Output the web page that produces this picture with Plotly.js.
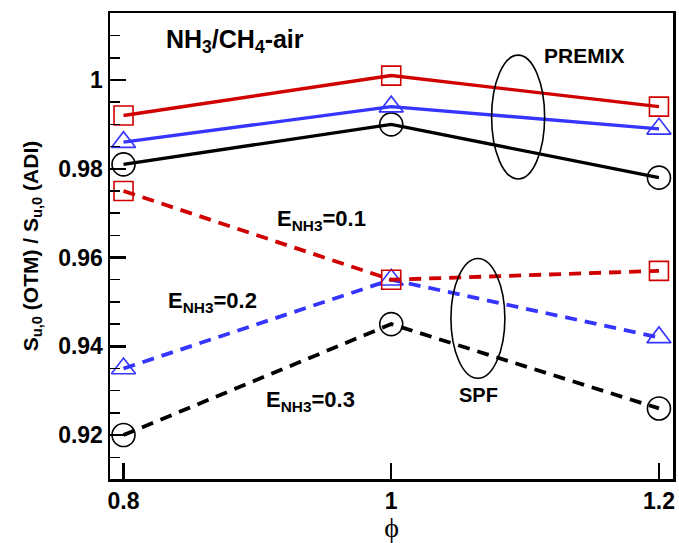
<!DOCTYPE html>
<html>
<head>
<meta charset="utf-8">
<script src="https://cdn.plot.ly/plotly-3.0.1.min.js"></script>
<style>
  html, body { margin: 0; padding: 0; background: #fff; }
  #chart { width: 679px; height: 543px; }
</style>
</head>
<body>
<div id="chart"></div>
<script>
// Equivalence ratio
const phi = [0.8, 1.0, 1.2];

// S_u,0 ratio (OTM / ADI), premixed cases
const premixE01 = [0.992, 1.001, 0.994];
const premixE02 = [0.986, 0.994, 0.989];
const premixE03 = [0.981, 0.990, 0.978];

// S_u,0 ratio (OTM / ADI), SPF cases
const spfE01 = [0.975, 0.955, 0.957];
const spfE02 = [0.935, 0.955, 0.942];
const spfE03 = [0.920, 0.945, 0.926];

// Tick labels
const xTickVals = [0.8, 1.0, 1.2];
const xTickText = ['0.8', '1', '1.2'];
const yTickVals = [0.92, 0.94, 0.96, 0.98, 1.0];
const yTickText = ['0.92', '0.94', '0.96', '0.98', '1'];

const RED = '#d00000';
const BLUE = '#3535ff';
const BLACK = '#000000';

function series(y, color, symbol, size, dashed) {
  return {
    x: phi, y: y, type: 'scatter', mode: 'lines+markers',
    line: { color: color, width: dashed ? 3.8 : 3.4, dash: dashed ? '12px,8px' : 'solid' },
    marker: { symbol: symbol, size: size, color: color, line: { color: color, width: 1.6 } },
    showlegend: false, cliponaxis: false
  };
}

const traces = [
  series(spfE03, BLACK, 'circle-open', 23, true),
  series(spfE02, BLUE, 'triangle-up-open', 21, true),
  series(spfE01, RED, 'square-open', 19, true),
  series(premixE03, BLACK, 'circle-open', 23, false),
  series(premixE02, BLUE, 'triangle-up-open', 21, false),
  series(premixE01, RED, 'square-open', 19, false)
];

const boldFont = { family: '"Liberation Sans", Arial, sans-serif', size: 22, color: '#000', weight: 'bold' };

const layout = {
  width: 679, height: 543,
  margin: { l: 110, r: 6, t: 13, b: 64 },
  paper_bgcolor: '#fff', plot_bgcolor: '#fff',
  xaxis: {
    range: [0.7899, 1.2105],
    tickvals: xTickVals, ticktext: xTickText,
    ticks: 'inside', ticklen: 16, tickwidth: 2.5, tickcolor: '#000',
    showline: true, mirror: true, linewidth: 2.5, linecolor: '#000',
    showgrid: false, zeroline: false,
    tickfont: { family: '"Liberation Sans", Arial, sans-serif', size: 23, color: '#000', weight: 'bold' },
    title: { text: 'ϕ', standoff: 2, font: { family: '"Liberation Serif", "DejaVu Serif", serif', size: 28, color: '#000' } }
  },
  yaxis: {
    range: [0.9101, 1.0151],
    tickvals: yTickVals, ticktext: yTickText,
    ticks: 'inside', ticklen: 16, tickwidth: 2.5, tickcolor: '#000',
    minor: { dtick: 0.005, ticks: 'inside', ticklen: 10, tickwidth: 1.5, tickcolor: '#000', showgrid: false },
    showline: true, mirror: true, linewidth: 2.5, linecolor: '#000',
    showgrid: false, zeroline: false,
    tickfont: { family: '"Liberation Sans", Arial, sans-serif', size: 23, color: '#000', weight: 'bold' },
    title: { text: 'S<sub>u,0</sub> (OTM) / S<sub>u,0</sub> (ADI)', standoff: 14,
             font: { family: '"Liberation Sans", Arial, sans-serif', size: 21, color: '#000', weight: 'bold' } }
  },
  shapes: [
    { type: 'circle', xref: 'x', yref: 'y', x0: 1.075, x1: 1.1146, y0: 0.9777, y1: 1.0056,
      line: { color: '#000', width: 1.6 } },
    { type: 'circle', xref: 'x', yref: 'y', x0: 1.0446, x1: 1.0849, y0: 0.9328, y1: 0.9598,
      line: { color: '#000', width: 1.6 } }
  ],
  annotations: [
    { text: 'NH<sub>3</sub>/CH<sub>4</sub>-air', xref: 'paper', yref: 'paper', x: 0.222, y: 0.94,
      xanchor: 'center', yanchor: 'middle', showarrow: false,
      font: Object.assign({}, boldFont, { size: 25 }) },
    { text: 'PREMIX', xref: 'paper', yref: 'paper', x: 0.843, y: 0.908,
      xanchor: 'center', yanchor: 'middle', showarrow: false,
      font: Object.assign({}, boldFont, { size: 21 }) },
    { text: 'SPF', xref: 'paper', yref: 'paper', x: 0.654, y: 0.18,
      xanchor: 'center', yanchor: 'middle', showarrow: false,
      font: Object.assign({}, boldFont, { size: 20 }) },
    { text: 'E<sub>NH3</sub>=0.1', xref: 'paper', yref: 'paper', x: 0.3757, y: 0.556,
      xanchor: 'center', yanchor: 'middle', showarrow: false, font: boldFont },
    { text: 'E<sub>NH3</sub>=0.2', xref: 'paper', yref: 'paper', x: 0.182, y: 0.38,
      xanchor: 'center', yanchor: 'middle', showarrow: false, font: boldFont },
    { text: 'E<sub>NH3</sub>=0.3', xref: 'paper', yref: 'paper', x: 0.357, y: 0.168,
      xanchor: 'center', yanchor: 'middle', showarrow: false, font: boldFont }
  ]
};

Plotly.newPlot('chart', traces, layout, { staticPlot: true, displayModeBar: false });
</script>
</body>
</html>
